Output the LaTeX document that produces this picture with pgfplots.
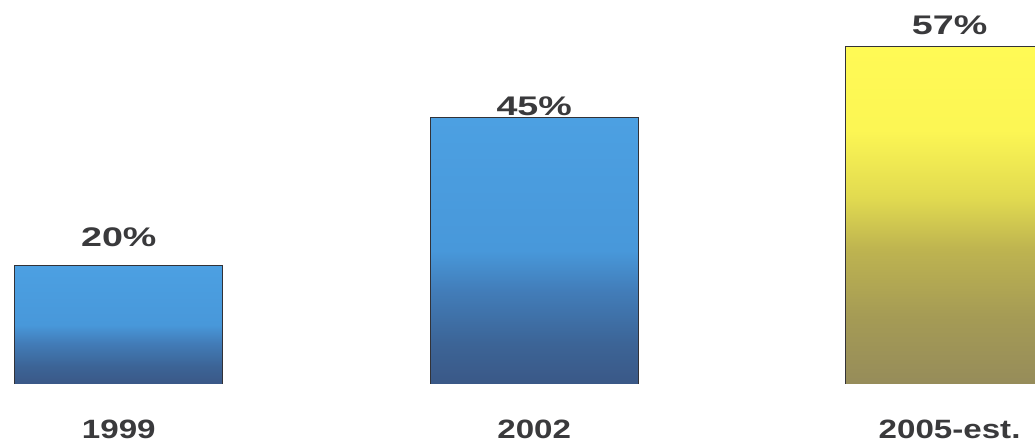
\documentclass[border=0pt]{standalone}
\usepackage{fontspec}
\setmainfont{Liberation Sans}
\newfontfamily\yearfont[FakeStretch=1.25]{Liberation Sans}
\newfontfamily\pctfont[FakeStretch=1.4]{Liberation Sans}
\usepackage{pgfplots}
\pgfplotsset{compat=1.18}

\definecolor{txt}{RGB}{58,58,60}
\definecolor{barline}{RGB}{50,50,55}
% blue gradient stops (top -> bottom)
\definecolor{bT}{RGB}{76,160,226}
\definecolor{bM}{RGB}{72,152,218}
\definecolor{bL}{RGB}{66,125,185}
\definecolor{bD}{RGB}{60,100,150}
\definecolor{bB}{RGB}{58,88,135}
% yellow gradient stops
\definecolor{yT}{RGB}{255,250,85}
\definecolor{yU}{RGB}{252,246,84}
\definecolor{yM}{RGB}{225,218,80}
\definecolor{yL}{RGB}{190,180,80}
\definecolor{yD}{RGB}{165,155,85}
\definecolor{yB}{RGB}{150,140,90}

\pgfdeclareverticalshading{blueshade}{100bp}{%
  color(0bp)=(bB); color(25bp)=(bB); color(32.5bp)=(bD); color(42.5bp)=(bL);
  color(50bp)=(bM); color(75bp)=(bT); color(100bp)=(bT)}
\pgfdeclareverticalshading{yellowshade}{100bp}{%
  color(0bp)=(yB); color(25bp)=(yB); color(35bp)=(yD); color(45bp)=(yL);
  color(52.5bp)=(yM); color(62.5bp)=(yU); color(75bp)=(yT); color(100bp)=(yT)}

\begin{document}
\begin{tikzpicture}
\useasboundingbox (0,0) rectangle (517.5bp,221bp);
\begin{axis}[
  at={(0,29bp)}, anchor=south west,
  scale only axis, width=517.5bp, height=192bp,
  xmin=-0.286, xmax=2.2056, ymin=0, ymax=64.76,
  ybar, bar width=0.5, bar shift=0pt,
  axis line style={draw=none},
  major tick length=0pt,
  ytick=\empty,
  xtick={0,1,2},
  xticklabels={1999,2002,2005-est.},
  xticklabel style={anchor=base, yshift=-27bp,
    font=\yearfont\bfseries\fontsize{13.3}{16}\selectfont, text=txt},
]
\addplot[bar shift=0pt, draw=barline, line width=0.5bp, shading=blueshade] coordinates {(0,20)};
\addplot[bar shift=0pt, draw=barline, line width=0.5bp, shading=blueshade] coordinates {(1,45)};
\addplot[bar shift=0pt, draw=barline, line width=0.5bp, shading=yellowshade] coordinates {(2,57)};

\node[anchor=base, font=\pctfont\bfseries\fontsize{13.5}{16}\selectfont, text=txt] at (axis cs:0,20) [yshift=9.5bp] {20\%};
\node[anchor=base, font=\pctfont\bfseries\fontsize{13.5}{16}\selectfont, text=txt] at (axis cs:1,45) [yshift=0.8bp] {45\%};
\node[anchor=base, font=\pctfont\bfseries\fontsize{13.5}{16}\selectfont, text=txt] at (axis cs:2,57) [yshift=6bp] {57\%};
\end{axis}
\end{tikzpicture}
\end{document}
